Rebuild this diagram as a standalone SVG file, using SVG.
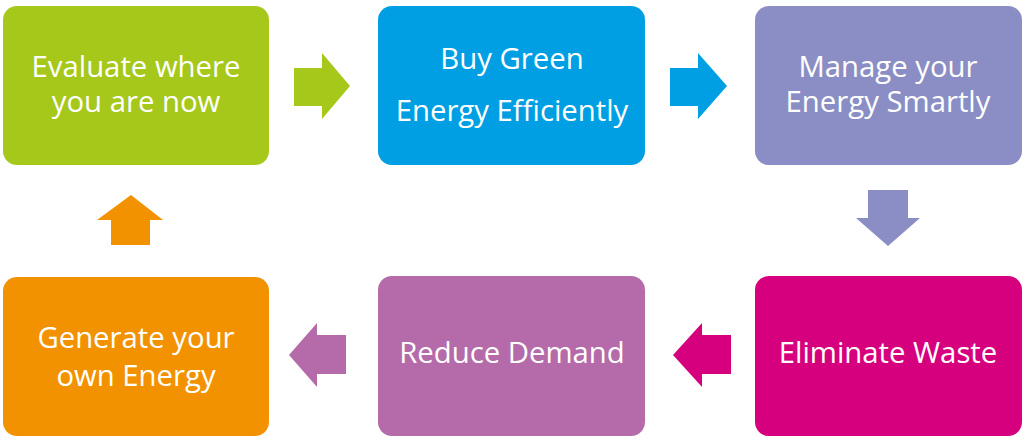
<svg xmlns="http://www.w3.org/2000/svg" width="1024" height="446" viewBox="0 0 1024 446">
<style>
.t{font-family:"Open Sans","Noto Sans","DejaVu Sans",sans-serif;font-size:29.3px;fill:#fff;text-anchor:middle}
</style>
<rect width="1024" height="446" fill="#fff"/>
<g id="n1"><rect x="3" y="6" width="266" height="159" rx="14" fill="#A5C81A"/><text class="t" x="136" y="77">Evaluate where</text><text class="t" x="136" y="112">you are now</text></g>
<g id="n2"><rect x="378" y="6" width="267" height="159" rx="14" fill="#009FE3"/><text class="t" x="512" y="69">Buy Green</text><text class="t" x="512" y="121">Energy Efficiently</text></g>
<g id="n3"><rect x="755" y="6" width="267" height="159" rx="14" fill="#8A8EC4"/><text class="t" x="888" y="77">Manage your</text><text class="t" x="888" y="112">Energy Smartly</text></g>
<g id="n4"><rect x="755" y="276" width="267" height="160" rx="14" fill="#D6007E"/><text class="t" x="888" y="363">Eliminate Waste</text></g>
<g id="n5"><rect x="378" y="276" width="267" height="160" rx="14" fill="#B56BA9"/><text class="t" x="512" y="363">Reduce Demand</text></g>
<g id="n6"><rect x="3" y="277" width="266" height="159" rx="14" fill="#F39200"/><text class="t" x="136" y="348">Generate your</text><text class="t" x="136" y="386">own Energy</text></g>
<g id="connectors">
<polygon points="294,68 322,68 322,53 350,86 322,119 322,106 294,106" fill="#A5C81A"/>
<polygon points="670,68 698,68 698,53 727,86 698,119 698,106 670,106" fill="#009FE3"/>
<polygon points="868,190 908,190 908,218 920,218 888,246 856,218 868,218" fill="#8A8EC4"/>
<polygon points="731,335 702,335 702,323 673,355 702,387 702,374 731,374" fill="#D6007E"/>
<polygon points="346,335 317,335 317,323 289,355 317,387 317,374 346,374" fill="#B56BA9"/>
<polygon points="111,245 150,245 150,220 163,220 131,195 97,220 111,220" fill="#F39200"/>
</g>
</svg>
